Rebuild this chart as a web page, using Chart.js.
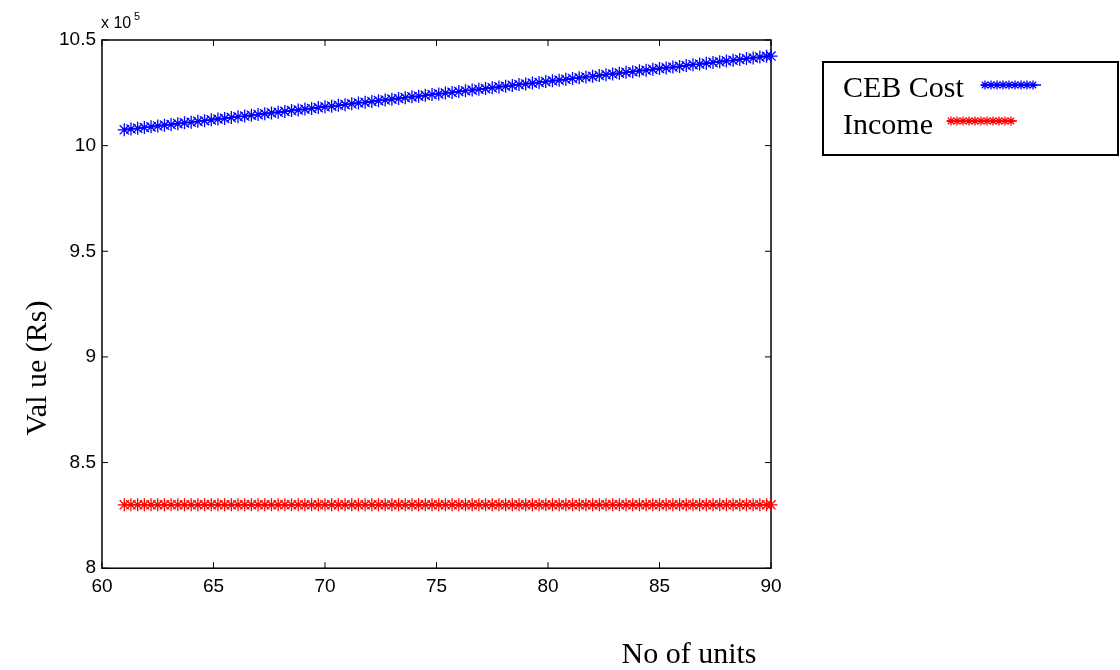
<!DOCTYPE html>
<html>
<head>
<meta charset="utf-8">
<script src="https://cdn.jsdelivr.net/npm/chart.js@4/dist/chart.umd.min.js"></script>
<style>
  html, body { margin: 0; background: #fff; }
  #wrap { width: 1120px; height: 670px; }
</style>
</head>
<body>
<div id="wrap"><canvas id="chart"></canvas></div>
<script>
// number of units (x)
const units = [
  61, 61.3, 61.6, 61.9, 62.2, 62.5, 62.8, 63.1, 63.4, 63.7,
  64, 64.3, 64.6, 64.9, 65.2, 65.5, 65.8, 66.1, 66.4, 66.7,
  67, 67.3, 67.6, 67.9, 68.2, 68.5, 68.8, 69.1, 69.4, 69.7,
  70, 70.3, 70.6, 70.9, 71.2, 71.5, 71.8, 72.1, 72.4, 72.7,
  73, 73.3, 73.6, 73.9, 74.2, 74.5, 74.8, 75.1, 75.4, 75.7,
  76, 76.3, 76.6, 76.9, 77.2, 77.5, 77.8, 78.1, 78.4, 78.7,
  79, 79.3, 79.6, 79.9, 80.2, 80.5, 80.8, 81.1, 81.4, 81.7,
  82, 82.3, 82.6, 82.9, 83.2, 83.5, 83.8, 84.1, 84.4, 84.7,
  85, 85.3, 85.6, 85.9, 86.2, 86.5, 86.8, 87.1, 87.4, 87.7,
  88, 88.3, 88.6, 88.9, 89.2, 89.5, 89.8, 90
];

// values in units of 10^5 Rs
const cebCost = [
  10.075, 10.079, 10.082, 10.086, 10.089, 10.093, 10.097, 10.100, 10.104, 10.108,
  10.111, 10.115, 10.118, 10.122, 10.126, 10.129, 10.133, 10.137, 10.140, 10.144,
  10.147, 10.151, 10.155, 10.158, 10.162, 10.166, 10.169, 10.173, 10.176, 10.180,
  10.184, 10.187, 10.191, 10.194, 10.198, 10.202, 10.205, 10.209, 10.213, 10.216,
  10.220, 10.223, 10.227, 10.231, 10.234, 10.238, 10.242, 10.245, 10.249, 10.252,
  10.256, 10.260, 10.263, 10.267, 10.270, 10.274, 10.278, 10.281, 10.285, 10.289,
  10.292, 10.296, 10.299, 10.303, 10.307, 10.310, 10.314, 10.318, 10.321, 10.325,
  10.328, 10.332, 10.336, 10.339, 10.343, 10.347, 10.350, 10.354, 10.357, 10.361,
  10.365, 10.368, 10.372, 10.375, 10.379, 10.383, 10.386, 10.390, 10.394, 10.397,
  10.401, 10.404, 10.408, 10.412, 10.415, 10.419, 10.423, 10.424
];

const income = [
  8.3, 8.3, 8.3, 8.3, 8.3, 8.3, 8.3, 8.3, 8.3, 8.3,
  8.3, 8.3, 8.3, 8.3, 8.3, 8.3, 8.3, 8.3, 8.3, 8.3,
  8.3, 8.3, 8.3, 8.3, 8.3, 8.3, 8.3, 8.3, 8.3, 8.3,
  8.3, 8.3, 8.3, 8.3, 8.3, 8.3, 8.3, 8.3, 8.3, 8.3,
  8.3, 8.3, 8.3, 8.3, 8.3, 8.3, 8.3, 8.3, 8.3, 8.3,
  8.3, 8.3, 8.3, 8.3, 8.3, 8.3, 8.3, 8.3, 8.3, 8.3,
  8.3, 8.3, 8.3, 8.3, 8.3, 8.3, 8.3, 8.3, 8.3, 8.3,
  8.3, 8.3, 8.3, 8.3, 8.3, 8.3, 8.3, 8.3, 8.3, 8.3,
  8.3, 8.3, 8.3, 8.3, 8.3, 8.3, 8.3, 8.3, 8.3, 8.3,
  8.3, 8.3, 8.3, 8.3, 8.3, 8.3, 8.3, 8.3
];

const xTicks = [60, 65, 70, 75, 80, 85, 90];
const yTicks = [8, 8.5, 9, 9.5, 10, 10.5];

const serif = '"Liberation Serif", "Times New Roman", serif';
const sans = '"Liberation Sans", Arial, sans-serif';

function star(ctx, x, y, r) {
  const d = r * Math.SQRT1_2;
  ctx.beginPath();
  ctx.moveTo(x - r, y); ctx.lineTo(x + r, y);
  ctx.moveTo(x, y - r); ctx.lineTo(x, y + r);
  ctx.moveTo(x - d, y - d); ctx.lineTo(x + d, y + d);
  ctx.moveTo(x - d, y + d); ctx.lineTo(x + d, y - d);
  ctx.stroke();
}

// matlab-ish frame, inward ticks, axis titles and legend box
const matlabFrame = {
  id: 'matlabFrame',
  beforeDatasetsDraw(chart) {
    const {ctx, chartArea: a, scales} = chart;
    ctx.save();
    ctx.strokeStyle = '#000';
    ctx.lineWidth = 1.5;
    ctx.strokeRect(a.left, a.top, a.right - a.left, a.bottom - a.top);
    ctx.lineWidth = 1;
    ctx.beginPath();
    xTicks.forEach(v => {
      const px = scales.x.getPixelForValue(v);
      ctx.moveTo(px, a.bottom); ctx.lineTo(px, a.bottom - 6);
      ctx.moveTo(px, a.top); ctx.lineTo(px, a.top + 6);
    });
    yTicks.forEach(v => {
      const py = scales.y.getPixelForValue(v);
      ctx.moveTo(a.left, py); ctx.lineTo(a.left + 6, py);
      ctx.moveTo(a.right, py); ctx.lineTo(a.right - 6, py);
    });
    ctx.stroke();
    ctx.restore();
  },
  afterDraw(chart) {
    const {ctx, chartArea: a} = chart;
    ctx.save();
    ctx.fillStyle = '#000';

    // exponent label
    ctx.font = '16px ' + sans;
    ctx.textBaseline = 'alphabetic';
    ctx.textAlign = 'left';
    ctx.fillText('x 10', a.left - 1, a.top - 12);
    ctx.font = '11px ' + sans;
    ctx.fillText('5', a.left + 32, a.top - 20);

    // axis titles
    ctx.font = '30px ' + serif;
    ctx.textAlign = 'center';
    ctx.fillText('No of units', 689, 663);
    ctx.save();
    ctx.translate(46, 368);
    ctx.rotate(-Math.PI / 2);
    ctx.fillText('Val ue (Rs)', 0, 0);
    ctx.restore();

    // legend
    ctx.strokeStyle = '#000';
    ctx.lineWidth = 2;
    ctx.strokeRect(823, 62, 295, 93);
    ctx.textAlign = 'left';
    ctx.font = '30px ' + serif;
    ctx.fillText('CEB Cost', 843, 97);
    ctx.fillText('Income', 843, 134);

    const rows = [
      {color: '#0000ff', x0: 981, x1: 1041, y: 85},
      {color: '#ff0000', x0: 947, x1: 1017, y: 121}
    ];
    rows.forEach(r => {
      ctx.strokeStyle = r.color;
      ctx.lineWidth = 1.3;
      ctx.beginPath();
      ctx.moveTo(r.x0, r.y); ctx.lineTo(r.x1, r.y);
      ctx.stroke();
      for (let x = r.x0 + 4; x <= r.x1 - 4; x += 6) star(ctx, x, r.y, 4.5);
    });
    ctx.restore();
  }
};

new Chart(document.getElementById('chart'), {
  type: 'line',
  data: {
    datasets: [
      {
        label: 'CEB Cost',
        data: units.map((u, i) => ({x: u, y: cebCost[i]})),
        borderColor: '#0000ff',
        backgroundColor: '#0000ff',
        borderWidth: 1.3,
        pointStyle: 'star',
        pointRadius: 6.5,
        pointBorderWidth: 1.3,
        clip: false
      },
      {
        label: 'Income',
        data: units.map((u, i) => ({x: u, y: income[i]})),
        borderColor: '#ff0000',
        backgroundColor: '#ff0000',
        borderWidth: 1.3,
        pointStyle: 'star',
        pointRadius: 6.5,
        pointBorderWidth: 1.3,
        clip: false
      }
    ]
  },
  options: {
    responsive: true,
    maintainAspectRatio: false,
    animation: false,
    layout: {padding: {left: 53, right: 349, top: 40, bottom: 65}},
    plugins: {
      legend: {display: false},
      tooltip: {enabled: false}
    },
    scales: {
      x: {
        type: 'linear',
        min: 60, max: 90,
        afterBuildTicks: s => { s.ticks = xTicks.map(v => ({value: v})); },
        grid: {display: false, drawTicks: false},
        border: {display: false},
        ticks: {color: '#000', padding: 7, font: {family: sans, size: 19}, maxRotation: 0,
                callback: v => String(v)}
      },
      y: {
        type: 'linear',
        min: 8, max: 10.5,
        afterBuildTicks: s => { s.ticks = yTicks.map(v => ({value: v})); },
        grid: {display: false, drawTicks: false},
        border: {display: false},
        ticks: {color: '#000', padding: 6, font: {family: sans, size: 19},
                callback: v => String(v)}
      }
    }
  },
  plugins: [matlabFrame]
});
</script>
</body>
</html>
